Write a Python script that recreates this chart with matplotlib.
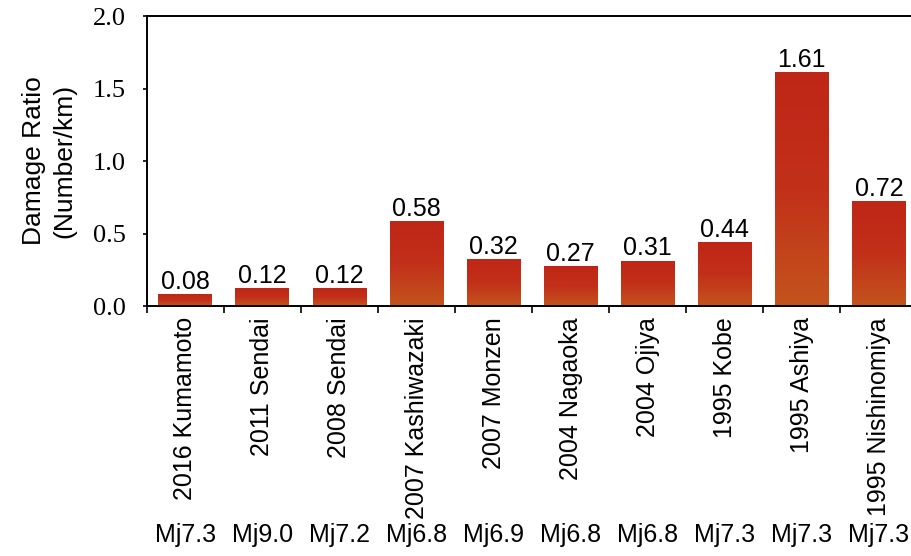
import numpy as np
import matplotlib.pyplot as plt
from matplotlib.colors import LinearSegmentedColormap
from matplotlib import transforms

events = ["2016 Kumamoto", "2011 Sendai", "2008 Sendai", "2007 Kashiwazaki",
          "2007 Monzen", "2004 Nagaoka", "2004 Ojiya", "1995 Kobe",
          "1995 Ashiya", "1995 Nishinomiya"]
magnitudes = ["Mj7.3", "Mj9.0", "Mj7.2", "Mj6.8", "Mj6.9",
              "Mj6.8", "Mj6.8", "Mj7.3", "Mj7.3", "Mj7.3"]
ratios = [0.08, 0.12, 0.12, 0.58, 0.32, 0.27, 0.31, 0.44, 1.61, 0.72]

sans = ["Liberation Sans", "DejaVu Sans"]
serif = ["Liberation Serif", "DejaVu Serif"]

fig = plt.figure(figsize=(9.12, 5.56), dpi=100)
ax = fig.add_axes([0.161, 0.4496, 0.839, 0.5214])

# vertical gradient: red on top, orange at the bottom
cmap = LinearSegmentedColormap.from_list("bar", ["#c4541d", "#c2301a", "#bf2616"])
grad = np.linspace(0, 1, 256).reshape(-1, 1)

x = np.arange(len(events))
width = 0.7
bars = ax.bar(x, ratios, width=width, color="none", edgecolor="none")
for b, v in zip(bars, ratios):
    x0 = b.get_x()
    ax.imshow(grad, extent=[x0, x0 + width, 0, v], origin="lower",
              cmap=cmap, aspect="auto", zorder=2)
    ax.text(b.get_x() + width / 2, v + 0.005, f"{v:.2f}", ha="center", va="bottom",
            fontsize=18, family=sans)

ax.set_xlim(-0.5, 9.43)
ax.set_ylim(0, 2.0)

ax.spines["right"].set_visible(False)
for s in ["left", "top", "bottom"]:
    ax.spines[s].set_linewidth(1.4)

ax.set_yticks([0, 0.5, 1.0, 1.5, 2.0])
ax.set_yticklabels(["0.0", "0.5", "1.0", "1.5", "2.0"], family=serif, fontsize=19)
ax.tick_params(axis="y", direction="out", length=3, width=1.2, pad=12)

# boundaries get tick marks, centers get the event names
ax.set_xticks(np.arange(-0.5, 9.5, 1.0))
ax.set_xticklabels([])
ax.tick_params(axis="x", which="major", direction="out", length=5, width=1.2)
ax.set_xticks(x, minor=True)
ax.set_xticklabels(events, minor=True, rotation=90, family=sans, fontsize=18)
ax.tick_params(axis="x", which="minor", length=0, pad=8)

trans = transforms.blended_transform_factory(ax.transData, fig.transFigure)
for xi, m in zip(x, magnitudes):
    ax.text(xi, 1 - 535 / 556, m, transform=trans, ha="center", va="center",
            fontsize=18, family=sans)

ax.set_ylabel("Damage Ratio\n(Number/km)", family=sans, fontsize=19, labelpad=12,
              linespacing=1.35)

fig.savefig("out.png", dpi=100)
